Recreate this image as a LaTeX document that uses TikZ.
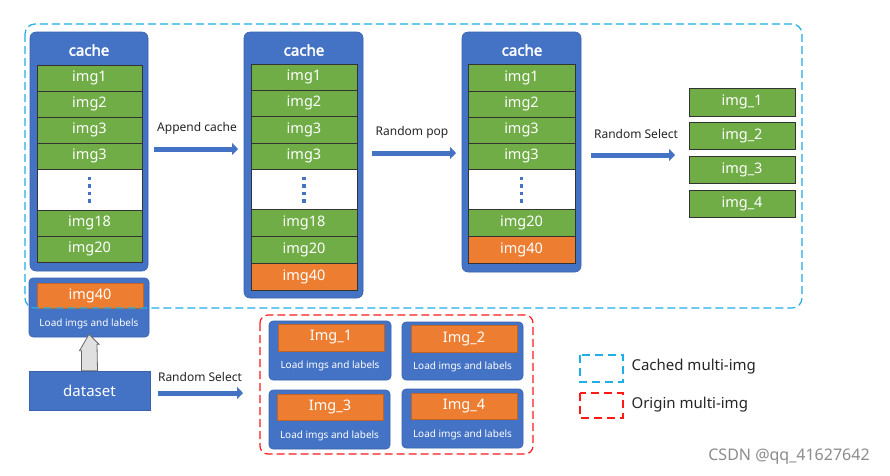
\documentclass[tikz,border=0pt]{standalone}
\usepackage{fontspec}
\setmainfont{Noto Sans}
\newfontfamily\titlefont{Noto Sans}[FakeBold=2.5]
\usetikzlibrary{arrows.meta}
\definecolor{bblue}{HTML}{4472C4}
\definecolor{bborder}{HTML}{3A62AE}
\definecolor{ggreen}{HTML}{70AD47}
\definecolor{oorange}{HTML}{ED7D31}
\definecolor{ccyan}{HTML}{1EAEE8}
\definecolor{rred}{HTML}{FF1A1A}
\newcommand\rbox[7]{\node[#6, minimum width={#4-#2}, minimum height={#5-#3}, inner sep=0pt] (#1) at ({(#2+#4)/2},{(#3+#5)/2}) {#7};}
\begin{document}
\begin{tikzpicture}[x=1pt,y=-1pt,
  column/.style={fill=bblue, draw=bborder, line width=0.6pt, rounded corners=6pt},
  loadbox/.style={fill=bblue, draw=bborder, line width=0.6pt, rounded corners=4pt},
  greenrow/.style={fill=ggreen, draw=black!80, line width=0.6pt, text=white, font=\fontsize{14.5}{16}\selectfont},
  orangerow/.style={fill=oorange, draw=black!80, line width=0.6pt, text=white, font=\fontsize{14.5}{16}\selectfont},
  whiterow/.style={fill=white, draw=black!80, line width=0.6pt},
  orangebox/.style={fill=oorange, draw=oorange!80!black, line width=0.6pt, text=white, font=\fontsize{14.5}{16}\selectfont},
  ctitle/.style={text=white, font=\titlefont\fontsize{15}{17}\selectfont},
  loadtxt/.style={text=white, font=\fontsize{10}{12}\selectfont},
  lbl/.style={text=black!85, font=\fontsize{12}{14}\selectfont},
  barrow/.style={draw=bblue, line width=5pt, -{Triangle[length=6pt,width=12pt]}},
  dotline/.style={draw=bblue, line width=3.5pt, dash pattern=on 3.5pt off 4pt},
  cyandash/.style={draw=ccyan, line width=1.2pt, dash pattern=on 8pt off 4pt},
  reddash/.style={draw=rred, line width=1.2pt, dash pattern=on 8pt off 4pt},
  hollow/.style={fill=black!12, draw=black!60, line width=0.8pt, line join=miter}
]
\useasboundingbox (0,0) rectangle (890,475);
\fill[white] (0,0) rectangle (890,475);

% ---------- cache 1 ----------
\rbox{c1}{30}{32}{148}{271}{column}{}
\node[ctitle] (c1t) at (89,50) {cache};
\rbox{c1r1}{37}{65}{142}{91}{greenrow}{img1}
\rbox{c1r2}{37}{91}{142}{117}{greenrow}{img2}
\rbox{c1r3}{37}{117}{142}{143}{greenrow}{img3}
\rbox{c1r4}{37}{143}{142}{169}{greenrow}{img3}
\rbox{c1w}{37}{169}{142}{210}{whiterow}{}
\rbox{c1r5}{37}{210}{142}{236}{greenrow}{img18}
\rbox{c1r6}{37}{236}{142}{262}{greenrow}{img20}
\draw[dotline] ([yshift=-8pt]c1w.north) -- ([yshift=5pt]c1w.south);

% load box 1
\rbox{l0}{29}{278}{149}{337}{loadbox}{}
\rbox{l0o}{37}{283}{143}{308}{orangebox}{img40}
\node[loadtxt] (l0t) at (89,324) {Load imgs and labels};

% ---------- cache 2 ----------
\rbox{c2}{244}{32}{363}{298}{column}{}
\node[ctitle] (c2t) at (304,50) {cache};
\rbox{c2r1}{251}{64}{357}{90}{greenrow}{img1}
\rbox{c2r2}{251}{90}{357}{116}{greenrow}{img2}
\rbox{c2r3}{251}{116}{357}{143}{greenrow}{img3}
\rbox{c2r4}{251}{143}{357}{169}{greenrow}{img3}
\rbox{c2w}{251}{169}{357}{209}{whiterow}{}
\rbox{c2r5}{251}{209}{357}{236}{greenrow}{img18}
\rbox{c2r6}{251}{236}{357}{263}{greenrow}{img20}
\rbox{c2r7}{251}{263}{357}{290}{orangerow}{img40}
\draw[dotline] ([yshift=-8pt]c2w.north) -- ([yshift=5pt]c2w.south);

% ---------- cache 3 ----------
\rbox{c3}{462}{32}{581}{272}{column}{}
\node[ctitle] (c3t) at (522,50) {cache};
\rbox{c3r1}{468}{64}{575}{91}{greenrow}{img1}
\rbox{c3r2}{468}{91}{575}{117}{greenrow}{img2}
\rbox{c3r3}{468}{117}{575}{143}{greenrow}{img3}
\rbox{c3r4}{468}{143}{575}{169}{greenrow}{img3}
\rbox{c3w}{468}{169}{575}{209}{whiterow}{}
\rbox{c3r5}{468}{209}{575}{236}{greenrow}{img20}
\rbox{c3r6}{468}{236}{575}{263}{orangerow}{img40}
\draw[dotline] ([yshift=-8pt]c3w.north) -- ([yshift=5pt]c3w.south);

% ---------- selected images ----------
\rbox{s1}{689}{88}{795}{116}{greenrow}{img\_1}
\rbox{s2}{689}{122}{795}{149}{greenrow}{img\_2}
\rbox{s3}{689}{156}{795}{183}{greenrow}{img\_3}
\rbox{s4}{689}{190}{795}{217}{greenrow}{img\_4}

% ---------- arrows ----------
\coordinate (a1s) at (154,149); \coordinate (a1e) at (238,149);
\draw[barrow] (a1s) -- (a1e);
\node[lbl] (a1l) at (197,128) {Append cache};
\coordinate (a2s) at (372,153); \coordinate (a2e) at (456,153);
\draw[barrow] (a2s) -- (a2e);
\node[lbl] (a2l) at (412,132) {Random pop};
\coordinate (a3s) at (591,155); \coordinate (a3e) at (675,155);
\draw[barrow] (a3s) -- (a3e);
\node[lbl] (a3l) at (636,134) {Random Select};

% ---------- dataset ----------
\rbox{ds}{29}{371}{150}{410}{loadbox, rounded corners=0pt}{}
\node[text=white, font=\fontsize{15}{17}\selectfont] (dst) at (89.5,390.5) {dataset};
\draw[hollow] ([xshift=-8pt]ds.north) -- ++(0,-20) -- ++(-2,0) -- ([yshift=3pt]l0.south) -- ++(10,10) -- ++(-2,0) -- ([xshift=8pt]ds.north) -- cycle;

\coordinate (a4s) at (158,393); \coordinate (a4e) at (243,393);
\draw[barrow] (a4s) -- (a4e);
\node[lbl] (a4l) at (200,377) {Random Select};

% ---------- origin multi-img boxes ----------
\rbox{m1}{269}{321}{391}{380}{loadbox}{}
\rbox{m1o}{278}{324}{384}{351}{orangebox}{Img\_1}
\node[loadtxt] (m1t) at (330,366) {Load imgs and labels};
\rbox{m2}{402}{322}{523}{380}{loadbox}{}
\rbox{m2o}{411}{325}{517}{352}{orangebox}{Img\_2}
\node[loadtxt] (m2t) at (462.5,367) {Load imgs and labels};
\rbox{m3}{269}{390}{390}{449}{loadbox}{}
\rbox{m3o}{277}{394}{383}{420}{orangebox}{Img\_3}
\node[loadtxt] (m3t) at (329.5,436) {Load imgs and labels};
\rbox{m4}{402}{389}{523}{448}{loadbox}{}
\rbox{m4o}{411}{393}{517}{419}{orangebox}{Img\_4}
\node[loadtxt] (m4t) at (462.5,435) {Load imgs and labels};

% ---------- dashed groups ----------
\draw[cyandash, rounded corners=10pt] (25,24) rectangle (802,308);
\draw[reddash, rounded corners=8pt] (260,315) rectangle (533,454);

% ---------- legend ----------
\draw[cyandash, dash pattern=on 8pt off 5pt] (580,355) rectangle (623,382);
\node[anchor=west, text=black!85, font=\fontsize{15}{17}\selectfont] (lg1) at (628,367) {Cached multi-img};
\draw[reddash, dash pattern=on 8pt off 5pt] (580,393) rectangle (623,418);
\node[anchor=west, text=black!85, font=\fontsize{15}{17}\selectfont] (lg2) at (628,405) {Origin multi-img};

% ---------- watermark ----------
\node[text=black!45, font=\fontsize{16}{18}\selectfont] (wm) at (789,457) {CSDN @qq\_41627642};
\end{tikzpicture}
\end{document}
